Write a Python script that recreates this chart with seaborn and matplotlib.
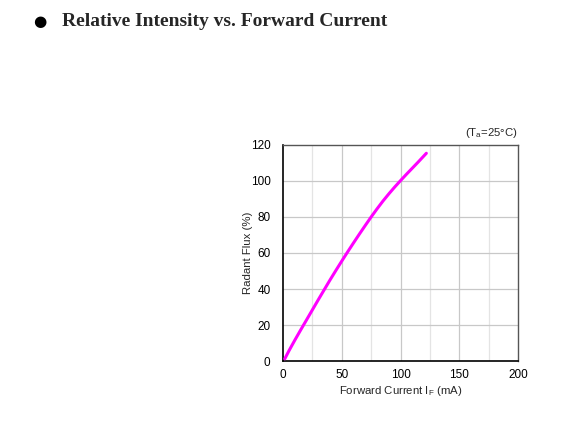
import numpy as np
import pandas as pd
import matplotlib
matplotlib.use("Agg")
import matplotlib.pyplot as plt
import seaborn as sns

current_ma = [1.5, 5, 10, 15, 20, 25, 30, 35, 40, 45, 50, 55, 60, 65, 70,
              75, 80, 85, 90, 95, 100, 105, 110, 115, 122]
radiant_flux = [1.2, 5.6, 11.5, 17.2, 22.8, 28.4, 34.0, 39.5, 45.0, 50.3, 55.5, 60.6, 65.6, 70.5, 75.3,
                80.0, 84.5, 88.8, 92.8, 96.6, 100.2, 103.7, 107.1, 110.5, 115.4]
x_ticks = [0, 50, 100, 150, 200]
y_ticks = [0, 20, 40, 60, 80, 100, 120]

sns.set_theme(style="white")
plt.rcParams['font.family'] = ['Liberation Sans', 'DejaVu Sans']

df = pd.DataFrame({"I": current_ma, "Flux": radiant_flux})

fig = plt.figure(figsize=(5.73, 4.45), dpi=100)
ax = fig.add_axes([283/573, 1-361/445, (518-283)/573, (361-145)/445])

ax.set_xlim(0, 200)
ax.set_ylim(0, 120)
for xv in np.arange(25, 200, 25):
    ax.axvline(xv, color="#c8c8c8" if xv % 50 == 0 else "#e4e4e4", lw=0.9, zorder=0)
for yv in np.arange(20, 120, 20):
    ax.axhline(yv, color="#c8c8c8", lw=0.9, zorder=0)

sns.lineplot(data=df, x="I", y="Flux", ax=ax, color="#ff00ff", lw=2.2, zorder=3)
for ln in ax.lines[-1:]:
    ln.set_solid_capstyle("round")
    ln.set_solid_joinstyle("round")

ax.set_xticks(x_ticks)
ax.set_yticks(y_ticks)
ax.tick_params(axis="x", length=0, labelsize=8.5, colors="black", pad=6)
ax.tick_params(axis="y", length=0, labelsize=8.5, colors="black", pad=9)
ax.set_xlabel("Forward Current I$_\\mathregular{F}$ (mA)", fontsize=8.2, labelpad=2)
ax.set_ylabel("Radant Flux (%)", fontsize=8.2, labelpad=-1.5)

for s in ["left", "bottom"]:
    ax.spines[s].set_color("black")
    ax.spines[s].set_linewidth(1.2)
for s in ["top", "right"]:
    ax.spines[s].set_color("#555555")
    ax.spines[s].set_linewidth(1.0)

ax.text(1.0, 1.025, "(T$_\\mathregular{a}$=25\u00b0C)", transform=ax.transAxes,
        ha="right", va="bottom", fontsize=8.2)

fig.text(33/573, 1-21/445, "\u25cf", fontsize=11, va="center", ha="left", color="black",
         family="DejaVu Sans")
fig.text(62/573, 1-21/445, "Relative Intensity vs. Forward Current", fontsize=14,
         fontweight="bold", va="center", ha="left", family="Liberation Serif")

fig.savefig("out.png", dpi=100)
